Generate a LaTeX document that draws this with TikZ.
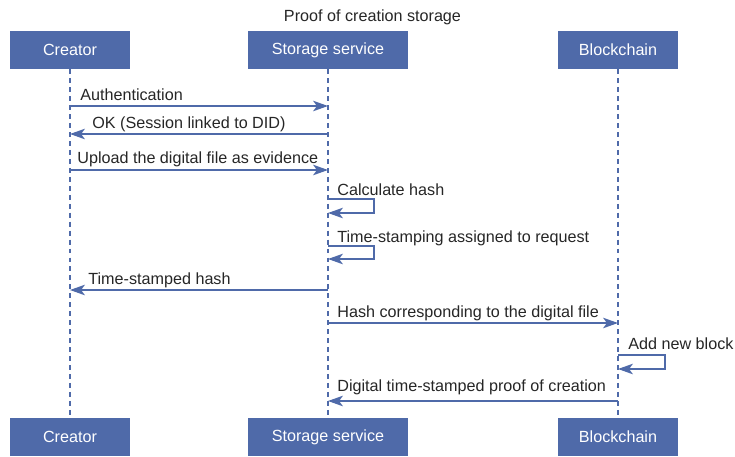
\documentclass[tikz,border=0pt]{standalone}
\usepackage{fontspec}
\setmainfont{Liberation Sans}
\usetikzlibrary{arrows.meta}
\definecolor{azul}{HTML}{4F6AA9}
\definecolor{texto}{HTML}{262626}
\begin{document}
\begin{tikzpicture}[x=0.02cm, y=-0.02cm,
    font=\fontsize{9.2}{11}\selectfont,
    actor/.style={fill=azul, text=white, minimum width=2.4cm, minimum height=0.76cm, inner sep=0pt},
    ancho/.style={minimum width=3.2cm},
    vida/.style={azul, line width=0.6pt, dash pattern=on 2.8pt off 2.3pt},
    msg/.style={azul, line width=0.75pt, -{Stealth[length=8.5pt, width=6pt, inset=2.2pt]}},
    etiq/.style={text=texto, anchor=base west, inner sep=0pt}]
    \useasboundingbox (0,0) rectangle (735,457);
    % Titulo
    \node[text=texto, anchor=base] (titulo) at (372.5,21) {Proof of creation storage};
    % Participantes
    \node[actor] (creA) at (70,50) {Creator};
    \node[actor, ancho] (almA) at (328,50) {Storage service};
    \node[actor] (bloA) at (618,50) {Blockchain};
    \node[actor] (creB) at (70,437) {Creator};
    \node[actor, ancho] (almB) at (328,437) {Storage service};
    \node[actor] (bloB) at (618,437) {Blockchain};
    % Lineas de vida
    \draw[vida] (creA) -- (creB);
    \draw[vida] (almA) -- (almB);
    \draw[vida] (bloA) -- (bloB);
    % Puntos sobre las lineas
    \foreach \y/\n in {106/auth, 134/ok, 170/subir, 199/calc, 213/calcB, 246/sello, 259/selloB,
                       290/hash, 323/envio, 355/bloque, 369/bloqueB, 401/prueba} {
        \coordinate (c-\n) at (70,\y);
        \coordinate (s-\n) at (328,\y);
        \coordinate (b-\n) at (618,\y);
    }
    % Mensajes
    \draw[msg] (c-auth) -- (s-auth);
    \node[etiq] (l-auth) at (80,100) {Authentication};
    \draw[msg] (s-ok) -- (c-ok);
    \node[etiq] (l-ok) at (92,128) {OK (Session linked to DID)};
    \draw[msg] (c-subir) -- (s-subir);
    \node[etiq] (l-subir) at (77,163) {Upload the digital file as evidence};
    \draw[msg] (s-calc) -- ++(46,0) |- (s-calcB);
    \node[etiq] (l-calc) at (337,195) {Calculate hash};
    \draw[msg] (s-sello) -- ++(46,0) |- (s-selloB);
    \node[etiq] (l-sello) at (337,242) {Time-stamping assigned to request};
    \draw[msg] (s-hash) -- (c-hash);
    \node[etiq] (l-hash) at (88,284) {Time-stamped hash};
    \draw[msg] (s-envio) -- (b-envio);
    \node[etiq] (l-envio) at (337,317) {Hash corresponding to the digital file};
    \draw[msg] (b-bloque) -- ++(47,0) |- (b-bloqueB);
    \node[etiq] (l-bloque) at (628,349) {Add new block};
    \draw[msg] (b-prueba) -- (s-prueba);
    \node[etiq] (l-prueba) at (337,391) {Digital time-stamped proof of creation};
\end{tikzpicture}
\end{document}
